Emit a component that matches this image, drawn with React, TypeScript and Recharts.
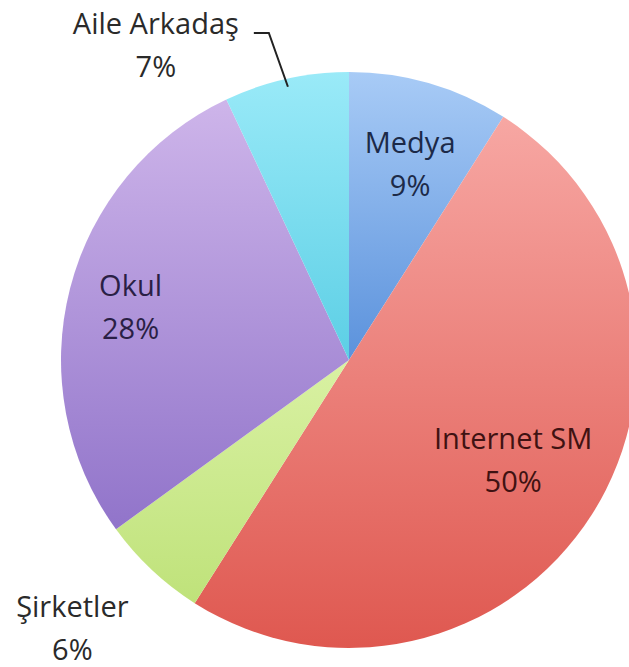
import { Cell, Pie, PieChart } from "recharts";

// sources, clockwise from 12 o'clock
const names = ["Medya", "Internet SM", "Şirketler", "Okul", "Aile Arkadaş"];
const shares = [9, 50, 6, 28, 7];

const topColors = ["#a8cbf6", "#f7a7a3", "#d9f1a3", "#ceb5ea", "#9aeaf8"];
const bottomColors = ["#5b92dc", "#df5850", "#bfe27a", "#9174ca", "#5ccfe5"];
const textColors = ["#1c2a48", "#3f1212", "#2a2a2a", "#2a1f45", "#2a2a2a"];

// label radius (x outerRadius) and angle nudge in degrees
const labelPlace = [
  { rf: 0.71, da: -1.2, leader: false },
  { rf: 0.67, da: 0.7, leader: false },
  { rf: 1.34, da: -2.6, leader: false },
  { rf: 0.78, da: 0.9, leader: false },
  { rf: 1.28, da: 19, leader: true },
];

const data = names.map((name, i) => ({ name, value: shares[i] }));

const RAD = Math.PI / 180;

function renderLabel(props: any) {
  const { cx, cy, midAngle, outerRadius, index, value, name } = props;
  const place = labelPlace[index];
  const a = (midAngle + place.da) * RAD;
  const r = outerRadius * place.rf;
  const x = cx + r * Math.cos(a);
  const y = cy - r * Math.sin(a);
  const color = textColors[index];

  let leader = null;
  if (place.leader) {
    const ex = cx + (outerRadius - 8) * Math.cos(midAngle * RAD);
    const ey = cy - (outerRadius - 8) * Math.sin(midAngle * RAD);
    const sx = x + 98;
    const sy = y - 13;
    leader = (
      <path
        d={`M${sx},${sy} L${sx + 15},${sy} L${ex},${ey}`}
        fill="none"
        stroke="#222"
        strokeWidth={2}
      />
    );
  }

  return (
    <g>
      {leader}
      <text
        x={x}
        y={y}
        textAnchor="middle"
        fill={color}
        fontFamily="'Open Sans', sans-serif"
        fontSize={29}
      >
        <tspan x={x} dy={-12}>{name}</tspan>
        <tspan x={x} dy={43}>{`${value}%`}</tspan>
      </text>
    </g>
  );
}

export default function App() {
  return (
    <div style={{ position: "absolute", left: 0, top: 0, width: 629, height: 667, background: "#fff" }}>
      <PieChart width={629} height={667} margin={{ top: 0, right: 0, bottom: 0, left: 0 }}>
        <defs>
          {names.map((_, i) => (
            <linearGradient key={i} id={`slice${i}`} x1="0" y1="0" x2="0" y2="1">
              <stop offset="0%" stopColor={topColors[i]} />
              <stop offset="100%" stopColor={bottomColors[i]} />
            </linearGradient>
          ))}
        </defs>
        <Pie
          data={data}
          dataKey="value"
          nameKey="name"
          cx={349}
          cy={360}
          outerRadius={288}
          startAngle={90}
          endAngle={-270}
          stroke="none"
          label={renderLabel}
          labelLine={false}
          isAnimationActive={false}
        >
          {data.map((_, i) => (
            <Cell key={i} fill={`url(#slice${i})`} />
          ))}
        </Pie>
      </PieChart>
    </div>
  );
}
